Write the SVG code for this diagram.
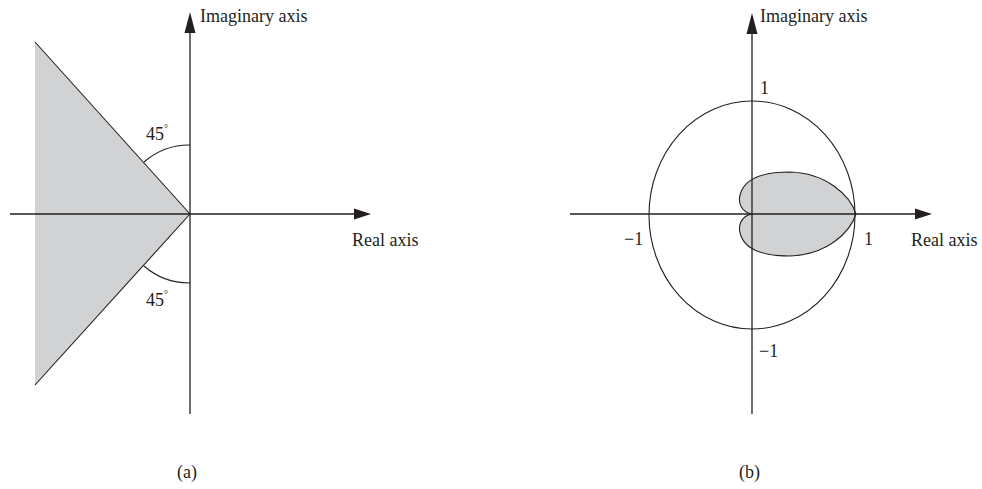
<svg xmlns="http://www.w3.org/2000/svg" width="982" height="489" viewBox="0 0 982 489">
<style>
.ax{stroke:#231f20;stroke-width:1.3;fill:none}
.ln{stroke:#231f20;stroke-width:1.1;fill:none}
.sh{stroke:#231f20;stroke-width:1.1;fill:#d1d2d4}
.ah{fill:#231f20}
text{font-family:"Liberation Serif","Times New Roman",serif;font-size:18px;fill:#231f20}
</style>
<rect width="982" height="489" fill="#fff"/>
<g id="panel-a">
<g id="region-a">
<polygon points="35,42 190,214 35,385" fill="#d1d2d4"/>
<line class="ln" x1="35" y1="42" x2="190" y2="214"/>
<line class="ln" x1="35" y1="385" x2="190" y2="214"/>
</g>
<g id="axes-a">
<line class="ax" x1="10" y1="214" x2="356" y2="214"/>
<polygon class="ah" points="371,214 354,208.5 354,219.5"/>
<line class="ax" x1="190" y1="414" x2="190" y2="30"/>
<polygon class="ah" points="190,12 184.5,33 195.5,33"/>
</g>
<g id="angles-a">
<path class="ln" d="M190,145 A69,69 0 0 0 144,162"/>
<path class="ln" d="M190,283 A69,69 0 0 1 144,266"/>
<text x="146" y="140">45<tspan font-size="10" dy="-8">°</tspan></text>
<text x="146" y="306">45<tspan font-size="10" dy="-8">°</tspan></text>
</g>
<text x="200" y="22">Imaginary axis</text>
<text x="352" y="246">Real axis</text>
<text x="177" y="478">(a)</text>
</g>
<g id="panel-b">
<g id="shape-b">
<path class="sh" d="M752,214 C741,212 737,202 741,192 C747,176 768,172 790,172 C826,173 850,195 856,214 C850,233 826,255 790,256 C768,256 747,252 741,236 C737,226 741,216 752,214 Z"/>
</g>
<g id="axes-b">
<line class="ax" x1="570" y1="214" x2="916" y2="214"/>
<polygon class="ah" points="932,214 915,208.5 915,219.5"/>
<line class="ax" x1="752" y1="414" x2="752" y2="30"/>
<polygon class="ah" points="752,13 746.5,34 757.5,34"/>
</g>
<ellipse id="unit-circle" class="ln" cx="752" cy="215" rx="103" ry="114"/>
<text x="760" y="22">Imaginary axis</text>
<text x="911" y="246">Real axis</text>
<text x="624" y="245">−1</text>
<text x="864" y="245">1</text>
<text x="760" y="94">1</text>
<text x="759" y="357">−1</text>
<text x="739" y="478">(b)</text>
</g>
</svg>
